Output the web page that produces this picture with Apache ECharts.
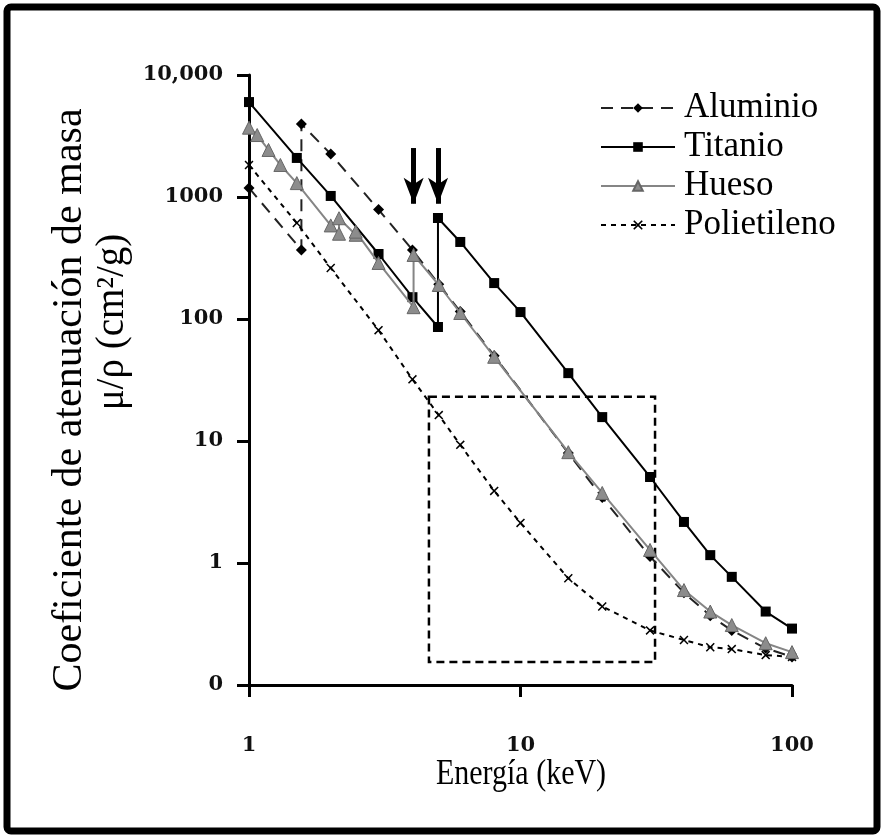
<!DOCTYPE html>
<html>
<head>
<meta charset="utf-8">
<script src="https://cdn.jsdelivr.net/npm/echarts@6/dist/echarts.min.js"></script>
<style>
html,body{margin:0;padding:0;background:#fff;}
#c{width:881px;height:837px;}
</style>
</head>
<body>
<div id="c"></div>
<script>
// Energy (keV), mass attenuation coefficient (cm2/g)
const aluminioData = [[1,1186],[1.5596,368],[1.5596,3960],[2,2250],[3,788],[4,368],[5,193],[6,115],[8,50],[15,7.96],[20,3.44],[30,1.13],[40,0.57],[50,0.37],[60,0.28],[80,0.2],[100,0.17]];
const titanioData = [[1,6000],[1.5,2090],[2,1020],[3,341],[4,151],[4.966,86],[4.966,673],[6,428],[8,197],[10,114],[15,36],[20,15.7],[30,5.07],[40,2.17],[50,1.16],[60,0.77],[80,0.40],[100,0.29]];
const huesoData = [[1,3700],[1.072,3220],[1.18,2430],[1.305,1830],[1.5,1300],[2,585],[2.1455,500],[2.1455,670],[2.472,490],[2.472,520],[3,288],[4.038,125],[4.038,335],[5,190],[6,112],[8,49],[15,8.1],[20,3.75],[30,1.28],[40,0.6],[50,0.4],[60,0.31],[80,0.22],[100,0.186]];
const polietilenoData = [[1,1830],[1.5,612],[2,262],[3,81],[4,32],[5,16.3],[6,9.3],[8,3.9],[10,2.13],[15,0.75],[20,0.44],[30,0.28],[40,0.234],[50,0.204],[60,0.197],[80,0.176],[100,0.17]];
const seriesNames = ['Aluminio','Titanio','Hueso','Polietileno'];
const yTickValues = [0.1,1,10,100,1000,10000];
const yTickLabels = ['0','1','10','100','1000','10,000'];
// K-edge arrows (keV) and zoom box corners [keV, mu]
const edgeArrows = [4.04, 4.97];
const arrowRange = [2520, 880];
const boxCorners = [[4.6, 23], [31.3, 0.154]];

const X_PATH = 'path://M0,1.2L1.2,0L5,3.8L8.8,0L10,1.2L6.2,5L10,8.8L8.8,10L5,6.2L1.2,10L0,8.8L3.8,5Z';

const chart = echarts.init(document.getElementById('c'), null, {renderer:'canvas'});
const serif = '"Liberation Serif", "Times New Roman", serif';
const option = {
  animation: false,
  backgroundColor: '#fff',
  grid: {left: 249, right: 89, top: 75, bottom: 152, containLabel: false, outerBoundsMode: 'none'},
  legend: {
    orient: 'vertical', left: 595, top: 85, itemWidth: 74, itemHeight: 12, itemGap: 3,
    selectedMode: false,
    textStyle: {fontFamily: serif, fontSize: 35, color: '#000', lineHeight: 36, padding: [0,0,0,4]},
    data: seriesNames
  },
  xAxis: {
    type: 'log', logBase: 10, min: 1, max: 100,
    axisLine: {lineStyle: {color: '#000', width: 3}},
    axisTick: {show: true, inside: false, length: 12, lineStyle: {color: '#000', width: 3}},
    minorTick: {show: false}, splitLine: {show: false}, minorSplitLine: {show: false},
    axisLabel: {margin: 50, fontFamily: '"DejaVu Serif", serif', fontWeight: 'bold', fontSize: 21, color: '#111'}
  },
  yAxis: {
    type: 'log', logBase: 10, min: 0.1, max: 10000,
    axisLine: {show: true, lineStyle: {color: '#000', width: 3}},
    axisTick: {show: true, inside: false, length: 12, lineStyle: {color: '#000', width: 3}},
    minorTick: {show: false}, splitLine: {show: false}, minorSplitLine: {show: false},
    axisLabel: {
      margin: 26, fontFamily: '"DejaVu Serif", serif', fontWeight: 'bold', fontSize: 21, color: '#111',
      formatter: function (v) {
        for (let i = 0; i < yTickValues.length; i++) {
          if (Math.abs(Math.log10(v) - Math.log10(yTickValues[i])) < 0.01) return yTickLabels[i];
        }
        return '';
      }
    }
  },
  graphic: [
    {type: 'rect', shape: {x: 7, y: 7, width: 870, height: 824, r: 4}, style: {fill: 'none', stroke: '#000', lineWidth: 7}, silent: true},
    {type: 'text', x: 70, y: 400, rotation: Math.PI / 2, silent: true,
     style: {text: 'Coeficiente de atenuación de masa', fontFamily: serif, fontSize: 42, fill: '#000', align: 'center', verticalAlign: 'middle'}},
    {type: 'text', x: 113, y: 322, rotation: Math.PI / 2, silent: true,
     style: {text: 'μ/ρ (cm²/g)', fontFamily: serif, fontSize: 39, fill: '#000', align: 'center', verticalAlign: 'middle'}},
    {type: 'text', x: 521, y: 775, scaleY: 1.2, silent: true,
     style: {text: 'Energía (keV)', fontFamily: serif, fontSize: 30, fill: '#000', align: 'center', verticalAlign: 'middle'}}
  ],
  series: [
    {
      name: 'Aluminio', type: 'line', data: aluminioData, symbol: 'diamond', symbolSize: 11,
      itemStyle: {color: '#000'}, lineStyle: {color: '#222', width: 2, type: [12, 8]},
      emphasis: {disabled: true}, z: 2
    },
    {
      name: 'Titanio', type: 'line', data: titanioData, symbol: 'rect', symbolSize: 10,
      itemStyle: {color: '#000'}, lineStyle: {color: '#000', width: 2, type: 'solid'},
      emphasis: {disabled: true}, z: 3,
      markLine: {
        silent: true, symbol: ['none', 'arrow'], label: {show: false},
        lineStyle: {color: '#000', width: 5, type: 'solid'},
        data: edgeArrows.map(function (e) {
          return [{coord: [e, arrowRange[0]]}, {coord: [e, arrowRange[1]], symbolSize: [15, 26]}];
        })
      }
    },
    {
      name: 'Hueso', type: 'line', data: huesoData, symbol: 'triangle', symbolSize: 13,
      itemStyle: {color: '#8c8c8c', borderColor: '#666', borderWidth: 1}, lineStyle: {color: '#858585', width: 2, type: 'solid'},
      emphasis: {disabled: true}, z: 4
    },
    {
      name: 'Polietileno', type: 'line', data: polietilenoData, symbol: X_PATH, symbolSize: 9,
      itemStyle: {color: '#000'}, lineStyle: {color: '#000', width: 2, type: [5, 5]},
      emphasis: {disabled: true}, z: 2,
      markArea: {
        silent: true,
        itemStyle: {color: 'rgba(0,0,0,0)', borderColor: '#000', borderWidth: 2.5, borderType: [8, 5]},
        data: [[{coord: boxCorners[0]}, {coord: boxCorners[1]}]]
      }
    }
  ]
};
chart.setOption(option);
</script>
</body>
</html>
